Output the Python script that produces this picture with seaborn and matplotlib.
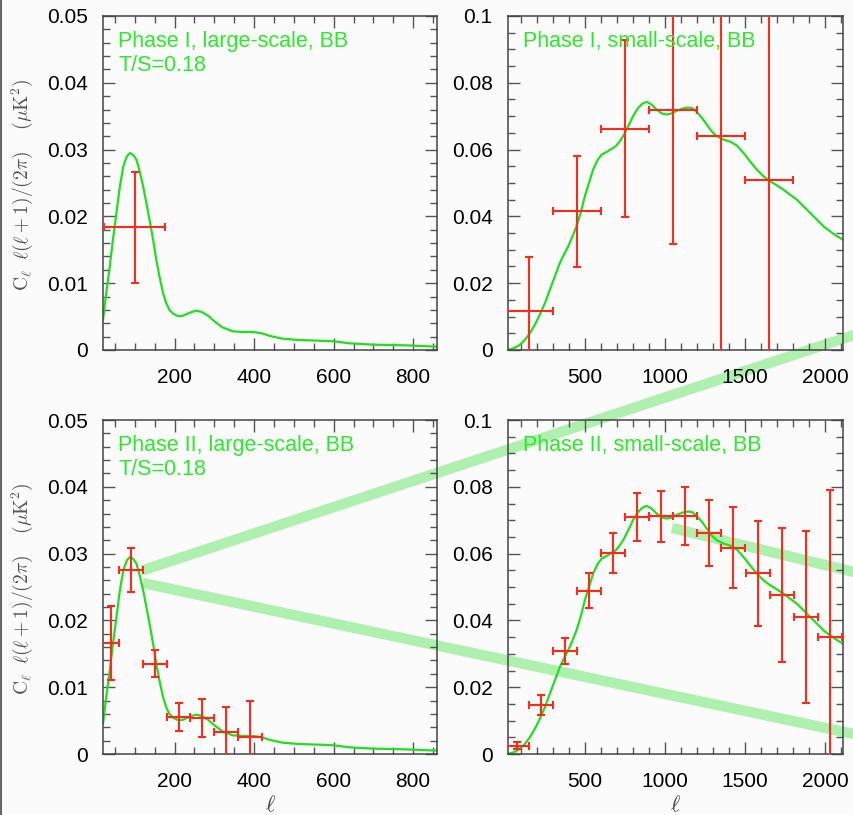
import matplotlib
matplotlib.use("Agg")
import matplotlib.pyplot as plt
import seaborn as sns
from matplotlib.lines import Line2D
from matplotlib.ticker import FixedLocator, FixedFormatter, MultipleLocator

# ---------------------------------------------------------------- data
# Model BB spectrum, large-scale (T/S = 0.18)
large_ell = [20, 28, 37, 45, 54, 62, 71, 80, 88, 96, 104, 112, 121, 129, 137, 146,
             154, 162, 171, 179, 187, 197, 208, 220, 235, 254, 268, 285, 300, 320,
             346, 370, 396, 420, 440, 471, 512, 560, 600, 640, 700, 780, 860]
large_cl = [0.0045, 0.0085, 0.0125, 0.0165, 0.0206, 0.0243, 0.0275, 0.0290, 0.0295,
            0.0292, 0.0285, 0.0268, 0.0245, 0.0220, 0.0195, 0.0165, 0.0135, 0.0110,
            0.0085, 0.0070, 0.0060, 0.0054, 0.0051, 0.0051, 0.0055, 0.0059, 0.0057,
            0.0051, 0.0043, 0.0034, 0.0028, 0.0027, 0.0027, 0.0025, 0.0021, 0.0017,
            0.0015, 0.0014, 0.0013, 0.0010, 0.0008, 0.0007, 0.0005]

# Model BB spectrum, small-scale
small_ell = [20, 60, 93, 125, 156, 187, 218, 250, 281, 312, 343, 370, 395, 420, 447,
             473, 499, 525, 551, 578, 604, 635, 666, 692, 718, 744, 770, 800, 832,
             860, 885, 915, 947, 980, 1010, 1040, 1072, 1110, 1145, 1170, 1197, 1230,
             1260, 1290, 1322, 1364, 1406, 1448, 1489, 1530, 1572, 1614, 1656, 1697,
             1739, 1780, 1822, 1864, 1906, 1948, 1989, 2050, 2110]
small_cl = [0.0, 0.0006, 0.0015, 0.0030, 0.0050, 0.0075, 0.0105, 0.0140, 0.0180,
            0.0220, 0.0260, 0.0287, 0.0310, 0.0337, 0.0370, 0.0410, 0.0460, 0.0500,
            0.0540, 0.0568, 0.0585, 0.0593, 0.0602, 0.0610, 0.0625, 0.0645, 0.0670,
            0.0700, 0.0725, 0.0738, 0.0743, 0.0735, 0.0720, 0.0708, 0.0705, 0.0708,
            0.0716, 0.0723, 0.0726, 0.0724, 0.0713, 0.0695, 0.0675, 0.0655, 0.0640,
            0.0630, 0.0624, 0.0612, 0.0590, 0.0565, 0.0540, 0.0520, 0.0505, 0.0493,
            0.0480, 0.0465, 0.0450, 0.0430, 0.0410, 0.0390, 0.0370, 0.0348, 0.0330]

# Phase I band powers
p1_large_ell = [100]
p1_large_cl = [0.0184]
p1_large_err = [0.0083]
p1_large_dell = [77]

p1_small_ell = [150, 450, 750, 1050, 1350, 1650]
p1_small_cl = [0.0118, 0.0415, 0.0663, 0.0718, 0.0641, 0.0510]
p1_small_err = [0.0160, 0.0167, 0.0266, 0.0400, 0.0700, 0.0650]
p1_small_dell = [150, 150, 150, 150, 150, 150]

# Phase II band powers
p2_large_ell = [40, 90, 150, 210, 270, 330, 390]
p2_large_cl = [0.0166, 0.0275, 0.0135, 0.0055, 0.0054, 0.0033, 0.0026]
p2_large_err = [0.0055, 0.0033, 0.0020, 0.0021, 0.0029, 0.0037, 0.0053]
p2_large_dell = [20, 30, 30, 30, 30, 30, 30]

p2_small_ell = [75, 225, 375, 525, 675, 825, 975, 1125, 1275, 1425, 1580, 1730, 1880, 2030]
p2_small_cl = [0.0025, 0.0147, 0.0307, 0.0489, 0.0601, 0.0709, 0.0712, 0.0713,
               0.0661, 0.0618, 0.0541, 0.0476, 0.0411, 0.0350]
p2_small_err = [0.0010, 0.0029, 0.0039, 0.0053, 0.0060, 0.0071, 0.0076, 0.0086,
                0.0098, 0.0121, 0.0157, 0.0200, 0.0257, 0.0440]
p2_small_dell = [75] * 14

# Tick labels
large_xticks = [200, 400, 600, 800]
large_xticklabels = ["200", "400", "600", "800"]
small_xticks = [500, 1000, 1500, 2000]
small_xticklabels = ["500", "1000", "1500", "2000"]
large_yticks = [0, 0.01, 0.02, 0.03, 0.04, 0.05]
large_yticklabels = ["0", "0.01", "0.02", "0.03", "0.04", "0.05"]
small_yticks = [0, 0.02, 0.04, 0.06, 0.08, 0.1]
small_yticklabels = ["0", "0.02", "0.04", "0.06", "0.08", "0.1"]

titles = ["Phase I, large-scale, BB\nT/S=0.18", "Phase I, small-scale, BB",
          "Phase II, large-scale, BB\nT/S=0.18", "Phase II, small-scale, BB"]

# ---------------------------------------------------------------- style
sns.set_theme(style="ticks")
plt.rcParams["font.family"] = ["Liberation Sans", "DejaVu Sans"]
plt.rcParams["mathtext.fontset"] = "cm"

BG = "#fbfbfb"
CURVE = "#22dd22"
LABEL = "#2ee82e"
RED = "#ff2a1a"
FRAME = "#444444"
BAND = "#aef0ae"

W, H = 854, 815
fig = plt.figure(figsize=(W / 100, H / 100), dpi=100, facecolor=BG)


def box(left, right, top, bottom):
    return [left / W, 1 - bottom / H, (right - left) / W, (bottom - top) / H]


rects = [box(103, 437, 16, 350), box(508, 843, 16, 350),
         box(103, 437, 420, 754), box(508, 843, 420, 754)]

panels = [
    dict(curve=(large_ell, large_cl), pts=(p1_large_ell, p1_large_cl, p1_large_err, p1_large_dell),
         xlim=(20, 860), ylim=(0, 0.05), xt=(large_xticks, large_xticklabels),
         yt=(large_yticks, large_yticklabels), xminor=50, yminor=0.002),
    dict(curve=(small_ell, small_cl), pts=(p1_small_ell, p1_small_cl, p1_small_err, p1_small_dell),
         xlim=(20, 2110), ylim=(0, 0.1), xt=(small_xticks, small_xticklabels),
         yt=(small_yticks, small_yticklabels), xminor=100, yminor=0.005),
    dict(curve=(large_ell, large_cl), pts=(p2_large_ell, p2_large_cl, p2_large_err, p2_large_dell),
         xlim=(20, 860), ylim=(0, 0.05), xt=(large_xticks, large_xticklabels),
         yt=(large_yticks, large_yticklabels), xminor=50, yminor=0.002),
    dict(curve=(small_ell, small_cl), pts=(p2_small_ell, p2_small_cl, p2_small_err, p2_small_dell),
         xlim=(20, 2110), ylim=(0, 0.1), xt=(small_xticks, small_xticklabels),
         yt=(small_yticks, small_yticklabels), xminor=100, yminor=0.005),
]

axes = []
for i, (rect, p) in enumerate(zip(rects, panels)):
    ax = fig.add_axes(rect)
    ax.set_facecolor("none")
    sns.lineplot(x=p["curve"][0], y=p["curve"][1], ax=ax, color=CURVE, lw=1.6,
                 sort=False, estimator=None, zorder=2)
    ell, cl, err, dell = p["pts"]
    ax.errorbar(ell, cl, yerr=err, xerr=dell, fmt="none", ecolor=RED,
                elinewidth=1.5, capsize=3.2, capthick=1.5, zorder=3)
    ax.set_xlim(*p["xlim"])
    ax.set_ylim(*p["ylim"])
    ax.xaxis.set_major_locator(FixedLocator(p["xt"][0]))
    ax.xaxis.set_major_formatter(FixedFormatter(p["xt"][1]))
    ax.yaxis.set_major_locator(FixedLocator(p["yt"][0]))
    ax.yaxis.set_major_formatter(FixedFormatter(p["yt"][1]))
    ax.xaxis.set_minor_locator(MultipleLocator(p["xminor"]))
    ax.yaxis.set_minor_locator(MultipleLocator(p["yminor"]))
    ax.tick_params(which="both", direction="in", top=True, right=True,
                   color="#555555", width=1.0, labelcolor="black",
                   labelsize=15, pad=11)
    ax.tick_params(axis="x", which="major", pad=13)
    ax.tick_params(which="major", length=8.5)
    ax.tick_params(which="minor", length=5)
    for s in ax.spines.values():
        s.set_color(FRAME)
        s.set_linewidth(1.1)
    ax.set_xlabel("")
    ax.set_ylabel("")
    ax.text(0.045, 0.955, titles[i], transform=ax.transAxes, ha="left", va="top",
            color=LABEL, fontsize=15.5, linespacing=1.2, zorder=4)
    axes.append(ax)

for ax in axes[2:]:
    ax.set_xlabel(r"$\ell$", fontsize=16, color="#444444", labelpad=3)

ylab = r"$\mathrm{C}_\ell\;\;\ell(\ell+1)/(2\pi)\quad\;(\mu\mathrm{K}^2)$"
for yc in (185, 589):
    fig.text(22 / W, 1 - yc / H, ylab, rotation=90, ha="center", va="center",
             color="#555555", fontsize=14)

# zoom guide bands from the Phase II large-scale peak
bl = axes[2]
to_fig = fig.transFigure.inverted()
starts = [to_fig.transform(bl.transData.transform((120, 0.0275))),
          to_fig.transform(bl.transData.transform((120, 0.0256)))]
ends = [(854 / W, 1 - 335 / H), (854 / W, 1 - 734 / H)]
for (x0, y0), (x1, y1) in zip(starts, ends):
    fig.add_artist(Line2D([x0, x1], [y0, y1], transform=fig.transFigure,
                          color=BAND, lw=7.5, solid_capstyle="butt", zorder=-1))
fig.add_artist(Line2D([672 / W, 854 / W], [1 - 528 / H, 1 - 572 / H],
                      transform=fig.transFigure, color=BAND, lw=7.5,
                      solid_capstyle="butt", zorder=-1))

# left page edge
fig.add_artist(Line2D([1.5 / W, 1.5 / W], [0, 1], transform=fig.transFigure,
                      color="#666666", lw=1.5))

fig.savefig("out.png", dpi=100, facecolor=BG)
